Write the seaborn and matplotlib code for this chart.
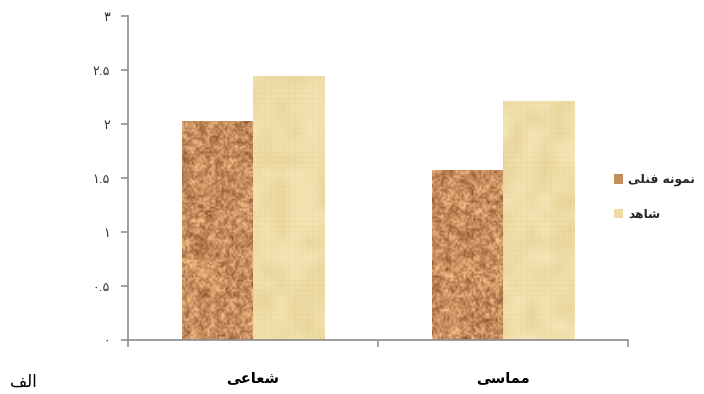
import numpy as np
import pandas as pd
import matplotlib
matplotlib.use("Agg")
import matplotlib.pyplot as plt
from matplotlib.patches import Patch
import seaborn as sns

# ---- data -------------------------------------------------------------
categories = ["شعاعی", "مماسی"]
groups = ["نمونه فنلی", "شاهد"]
sample_values = [2.03, 1.57]
control_values = [2.44, 2.21]
y_ticks = [0, 0.5, 1, 1.5, 2, 2.5, 3]
y_tick_labels = ["۰", "۰.۵", "۱", "۱.۵", "۲", "۲.۵", "۳"]
panel_label = "الف"

# ---- minimal Persian shaping (presentation forms, visual order) --------
FORMS = {
    "ا": ("\uFE8D", "\uFE8E", None, None),
    "د": ("\uFEA9", "\uFEAA", None, None),
    "و": ("\uFEED", "\uFEEE", None, None),
    "ش": ("\uFEB5", "\uFEB6", "\uFEB7", "\uFEB8"),
    "ع": ("\uFEC9", "\uFECA", "\uFECB", "\uFECC"),
    "ی": ("\uFEEF", "\uFEF0", "\uFEF3", "\uFEF4"),
    "م": ("\uFEE1", "\uFEE2", "\uFEE3", "\uFEE4"),
    "س": ("\uFEB1", "\uFEB2", "\uFEB3", "\uFEB4"),
    "ه": ("\uFEE9", "\uFEEA", "\uFEEB", "\uFEEC"),
    "ن": ("\uFEE5", "\uFEE6", "\uFEE7", "\uFEE8"),
    "ف": ("\uFED1", "\uFED2", "\uFED3", "\uFED4"),
    "ل": ("\uFEDD", "\uFEDE", "\uFEDF", "\uFEE0"),
}


def shape_word(word):
    glyphs = []
    for i, ch in enumerate(word):
        f = FORMS[ch]
        joins_prev = i > 0 and FORMS[word[i - 1]][2] is not None
        joins_next = f[2] is not None and i < len(word) - 1
        if joins_prev and joins_next:
            glyphs.append(f[3])
        elif joins_next:
            glyphs.append(f[2])
        elif joins_prev:
            glyphs.append(f[1])
        else:
            glyphs.append(f[0])
    return "".join(reversed(glyphs))


def fa(text):
    # right-to-left: words and letters both laid out from the right
    return " ".join(shape_word(w) for w in reversed(text.split()))


# ---- textures ---------------------------------------------------------
rng = np.random.default_rng(7)


def smooth_noise(h, w, cell):
    gh, gw = h // cell + 3, w // cell + 3
    g = rng.random((gh, gw))
    yy = np.arange(h) / cell
    xx = np.arange(w) / cell
    y0 = yy.astype(int); x0 = xx.astype(int)
    fy = (yy - y0)[:, None]; fx = (xx - x0)[None, :]
    a = g[y0][:, x0]; b = g[y0][:, x0 + 1]
    c = g[y0 + 1][:, x0]; d = g[y0 + 1][:, x0 + 1]
    big = (a * (1 - fx) + b * fx) * (1 - fy) + (c * (1 - fx) + d * fx) * fy
    return (big - big.mean()) / (big.std() + 1e-9)


def cork_texture(h, w):
    n = 0.55 * smooth_noise(h, w, 2) + 0.45 * smooth_noise(h, w, 5)
    base = np.array([198, 142, 94], float)
    img = base + n[..., None] * np.array([26, 26, 22])
    return np.clip(img, 0, 255).astype(np.uint8)


def paper_texture(h, w):
    n = smooth_noise(h, w, 14)
    base = np.array([240, 223, 170], float)
    img = base + n[..., None] * np.array([2, 3, 5])
    rows = (np.arange(h) % 5 == 0)[:, None]
    cols = (np.arange(w) % 6 == 0)[None, :]
    img = img - (rows | cols)[..., None] * np.array([3, 5, 9])
    return np.clip(img, 0, 255).astype(np.uint8)


# ---- figure -------------------------------------------------------------
df = pd.DataFrame({
    "category": categories * 2,
    "group": [groups[0]] * len(categories) + [groups[1]] * len(categories),
    "value": sample_values + control_values,
})

sns.set_style("white")
fig = plt.figure(figsize=(7.04, 3.94), dpi=100)
ax = fig.add_axes([128 / 704, 1 - 340 / 394, 500 / 704, 324 / 394])

colors = {groups[0]: "#c68d5c", groups[1]: "#eedaa4"}
sns.barplot(data=df, x="category", y="value", hue="group",
            order=categories, hue_order=groups, palette=colors,
            width=0.57, gap=0, saturation=1, legend=False, ax=ax,
            edgecolor="none", linewidth=0)

makers = [cork_texture, paper_texture]
for cont, maker in zip(ax.containers, makers):
    for bar in cont.patches:
        x0, y0 = bar.get_x(), bar.get_y()
        bw = bar.get_width()
        tex = maker(330, 72)
        im = ax.imshow(tex, extent=(x0, x0 + bw, y0, y0 + 3.0),
                       aspect="auto", origin="lower",
                       zorder=bar.get_zorder() + 0.1,
                       interpolation="bilinear")
        im.set_clip_path(bar)

ax.set_xlim(-0.5, 1.5)
ax.set_ylim(0, 3)
ax.set_aspect("auto")

axis_grey = "#8c8c8c"
for side in ("top", "right"):
    ax.spines[side].set_visible(False)
for side in ("left", "bottom"):
    ax.spines[side].set_color(axis_grey)
    ax.spines[side].set_linewidth(1.2)

ax.set_yticks(y_ticks)
ax.set_yticklabels(y_tick_labels, fontsize=9, color="#333333",
                   family=["DejaVu Sans"])
ax.tick_params(axis="y", length=5, width=1.1, color=axis_grey, pad=8,
               direction="out", left=True)

ax.set_xticks(range(len(categories)))
ax.set_xticklabels([fa(c) for c in categories], fontsize=10.5,
                   fontweight="bold", color="black")
ax.tick_params(axis="x", which="major", length=0, pad=22)
ax.set_xticks([-0.5, 0.5, 1.5], minor=True)
ax.tick_params(axis="x", which="minor", length=5, width=1.1,
               color=axis_grey, direction="out", bottom=True)
ax.set_xlabel("")
ax.set_ylabel("")

handles = [Patch(facecolor=colors[g], edgecolor="none") for g in groups]
ax.legend(handles, [fa(g) for g in groups], loc="center left",
          bbox_to_anchor=(605 / 704, 1 - 197 / 394),
          bbox_transform=fig.transFigure, frameon=False,
          handlelength=0.8, handleheight=0.8, handletextpad=0.4,
          labelspacing=1.75, borderpad=0.2, prop={"size": 8.8, "weight": "bold"})

fig.text(23 / 704, 1 - 382 / 394, fa(panel_label), fontsize=12,
         ha="center", va="center", color="black")

fig.savefig("out.png", dpi=100)
